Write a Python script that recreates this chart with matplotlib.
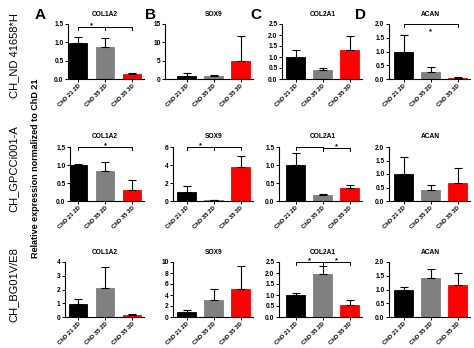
import matplotlib
matplotlib.use("Agg")
import matplotlib.pyplot as plt
from matplotlib.ticker import FixedLocator, FormatStrFormatter

plt.rcParams['font.family'] = ['Liberation Sans', 'DejaVu Sans']

# ---------------- data ----------------
groups = ["ChD 21 2D", "ChD 35 2D", "ChD 35 3D"]
bar_colors = ["#000000", "#808080", "#ff0000"]
row_labels = ["CH_ND 41658*H", "CH_GPCCi001-A", "CH_BG01V/E8"]
col_letters = ["A", "B", "C", "D"]
genes = ["COL1A2", "SOX9", "COL2A1", "ACAN"]
ylabel = "Relative expression normalized to ChD 21"

# means and upper SD per gene (COL1A2, SOX9, COL2A1, ACAN)
means_row1 = [[0.99, 0.86, 0.13], [0.9, 0.7, 5.0], [0.98, 0.40, 1.30], [0.99, 0.27, 0.03]]
errs_row1 = [[0.15, 0.27, 0.03], [0.8, 0.4, 6.7], [0.36, 0.10, 0.65], [0.60, 0.18, 0.03]]
means_row2 = [[0.99, 0.82, 0.30], [0.96, 0.07, 3.81], [0.99, 0.18, 0.36], [1.00, 0.41, 0.65]]
errs_row2 = [[0.04, 0.26, 0.27], [0.71, 0.08, 1.19], [0.35, 0.02, 0.09], [0.62, 0.19, 0.56]]
means_row3 = [[0.97, 2.11, 0.12], [0.98, 3.13, 5.09], [0.98, 1.95, 0.54], [0.99, 1.42, 1.18]]
errs_row3 = [[0.34, 1.50, 0.10], [0.25, 1.96, 4.1], [0.12, 0.37, 0.23], [0.09, 0.33, 0.42]]
means = [means_row1, means_row2, means_row3]
errs = [errs_row1, errs_row2, errs_row3]

ymax = [[1.5, 15, 2.5, 2.0], [1.5, 6, 1.5, 2.0], [4, 10, 2.5, 2.0]]
ystep = [[0.5, 5, 0.5, 0.5], [0.5, 2, 0.5, 0.5], [1, 2, 0.5, 0.5]]
yfmt = [["%.1f", "%d", "%.1f", "%.1f"], ["%.1f", "%d", "%.1f", "%.1f"], ["%d", "%d", "%.1f", "%.1f"]]

# significance brackets: (row, col, i, j, label, y level)
brackets = [
    (0, 0, 0, 1, "*", 1.42), (0, 0, 1, 2, "", 1.42),
    (0, 3, 0, 2, "*below", 2.0),
    (1, 0, 0, 2, "*", 1.5),
    (1, 1, 0, 1, "*", 6.0), (1, 1, 1, 2, "", 6.0),
    (1, 2, 0, 1, "", 1.5), (1, 2, 1, 2, "*", 1.47),
    (2, 2, 0, 1, "*", 2.5), (2, 2, 1, 2, "*", 2.5),
]

# ---------------- layout (pixels) ----------------
W, H = 474, 348
fig = plt.figure(figsize=(W / 100, H / 100), dpi=100)

axis_left = [[68, 165, 282, 389], [70, 173, 279, 389], [65, 173, 279, 389]]
bar0_center = [78, 186.5, 295.5, 403.5]
spacing = 27.0
row_y = [(24, 79), (147, 201), (262, 317)]
title_y = [1.18, 1.2, 1.18]
xright = 2.45
bar_w = 0.67

axes = {}
for r in range(3):
    ytop, ybot = row_y[r]
    for c in range(4):
        xl = axis_left[r][c]
        xlim_left = (xl - bar0_center[c]) / spacing
        wpx = (xright - xlim_left) * spacing
        ax = fig.add_axes([xl / W, 1 - ybot / H, wpx / W, (ybot - ytop) / H])
        axes[(r, c)] = ax
        x = [0, 1, 2]
        ax.bar(x, means[r][c], width=bar_w, color=bar_colors, edgecolor=bar_colors,
               linewidth=0.6, zorder=2)
        ax.errorbar(x, means[r][c], yerr=[[0, 0, 0], errs[r][c]], fmt='none',
                    ecolor='black', elinewidth=0.8, capsize=3.0, capthick=0.8, zorder=3)
        ax.set_xlim(xlim_left, xright)
        ax.set_ylim(0, ymax[r][c])
        n = int(round(ymax[r][c] / ystep[r][c]))
        ax.yaxis.set_major_locator(FixedLocator([k * ystep[r][c] for k in range(n + 1)]))
        ax.yaxis.set_major_formatter(FormatStrFormatter(yfmt[r][c]))
        ax.set_xticks(x)
        ax.set_xticklabels(groups, rotation=45, ha='right', rotation_mode='anchor',
                           fontsize=4.3, fontweight='bold')
        for lab in ax.get_yticklabels():
            lab.set_fontsize(4.8)
            lab.set_fontweight('bold')
        ax.tick_params(axis='both', length=2, width=0.7, pad=1.2, colors='black')
        for s in ['top', 'right']:
            ax.spines[s].set_visible(False)
        for s in ['left', 'bottom']:
            ax.spines[s].set_linewidth(0.8)
        ax.text(1, title_y[r], genes[c], transform=ax.get_xaxis_transform(), ha='center',
                va='center', fontsize=4.8, fontweight='bold')
        ax.patch.set_alpha(0)

for (r, c, i, j, lab, yl) in brackets:
    ax = axes[(r, c)]
    ym = ymax[r][c]
    drop = ym * 0.05
    ax.plot([i, i, j, j], [yl - drop, yl, yl, yl - drop], color='black', lw=0.7,
            clip_on=False, zorder=4)
    if lab == "*":
        ax.text((i + j) / 2, yl - ym * 0.01, "*", ha='center', va='baseline',
                fontsize=5.5, fontweight='bold', clip_on=False)
    elif lab == "*below":
        ax.text((i + j) / 2, yl - ym * 0.16, "*", ha='center', va='baseline',
                fontsize=5.5, fontweight='bold', clip_on=False)

# panel letters
letter_x = [40, 150, 256, 360]
for c in range(4):
    fig.text(letter_x[c] / W, 1 - 15 / H, col_letters[c], ha='center', va='center',
             fontsize=11, fontweight='bold')

# row labels
row_center = [56, 169, 285]
for r in range(3):
    fig.text(14 / W, 1 - row_center[r] / H, row_labels[r], rotation=90, ha='center',
             va='center', fontsize=8)

fig.text(36 / W, 1 - 168 / H, ylabel, rotation=90, ha='center', va='center',
         fontsize=6.5, fontweight='bold')

fig.savefig("out.png", dpi=100, facecolor='white')
